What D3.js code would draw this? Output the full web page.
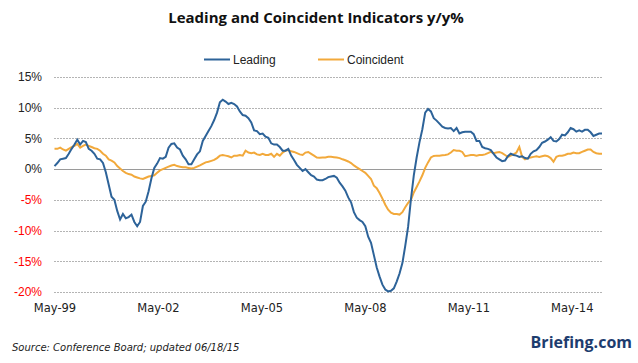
<!DOCTYPE html>
<html>
<head>
<meta charset="utf-8">
<script src="https://cdnjs.cloudflare.com/ajax/libs/d3/7.8.5/d3.min.js"></script>
<style>
  body { margin: 0; background: #fff; }
  svg { display: block; }
</style>
</head>
<body>
<div id="chart"></div>
<script>
// monthly y/y %, May-99 .. May-15
const leading = [
  0.5, 1.0, 1.6, 1.7, 1.8, 2.5, 3.3, 4.0, 4.8, 4.0,
  4.6, 4.4, 3.3, 3.0, 2.5, 1.7, 1.6, 1.0, -0.5, -2.5,
  -4.5, -5.0, -6.8, -8.2, -7.3, -8.0, -7.8, -7.4, -8.6, -9.3,
  -8.6, -6.0, -5.3, -3.6, -1.5, 0.2, 0.9, 1.8, 1.7, 2.0,
  3.5, 4.1, 4.2, 3.5, 3.2, 2.2, 1.6, 0.8, 0.8, 1.6,
  2.4, 2.9, 4.6, 5.4, 6.2, 7.0, 8.0, 9.2, 10.9, 11.3,
  11.0, 10.6, 10.8, 10.6, 10.2, 9.4, 8.8, 8.7, 8.3, 7.6,
  6.3, 6.2, 5.7, 5.8, 5.3, 5.1, 4.2, 4.0, 4.0, 3.6,
  3.0, 3.0, 3.3, 2.2, 1.5, 0.7, 0.2, -0.3, 0.0, -0.5,
  -1.0, -1.2, -1.7, -1.8, -1.8, -1.6, -1.3, -1.2, -1.1, -1.4,
  -2.2, -2.8, -3.5, -4.6, -5.4, -7.0, -7.9, -8.3, -8.6, -9.3,
  -11.0, -12.0, -14.0, -16.0, -17.5, -18.8, -19.6, -19.9, -19.8, -19.4,
  -18.3, -17.0, -15.3, -12.5, -9.4, -4.9, -1.0, 1.9, 4.4, 6.5,
  9.2, 9.8, 9.4, 8.3, 7.9, 7.4, 6.9, 6.7, 6.6, 6.7,
  6.2, 6.7, 5.8, 6.0, 6.1, 6.1, 6.1, 5.7, 4.6, 4.6,
  3.6, 3.4, 3.3, 3.1, 2.5, 1.9, 1.6, 1.3, 1.4, 2.1,
  2.5, 2.3, 2.2, 2.0, 2.1, 1.8, 1.7, 2.5, 2.9, 3.1,
  3.6, 4.3, 4.5, 4.8, 5.2, 4.6, 4.5, 4.9, 5.6, 5.5,
  6.0, 6.7, 6.5, 6.1, 6.3, 6.1, 6.4, 6.4, 6.0, 5.4,
  5.6, 5.8, 5.8
];
const coincident = [
  3.3, 3.3, 3.5, 3.2, 3.0, 3.3, 3.6, 3.8, 4.1, 3.5,
  3.8, 4.0, 3.8, 3.6, 3.4, 3.3, 3.0, 2.5, 2.2, 1.6,
  1.4, 1.1, 0.5, 0.1, -0.3, -0.6, -0.8, -0.9, -1.2, -1.35,
  -1.5, -1.6, -1.4, -1.2, -1.1, -1.0, -0.6, -0.2, 0.0, 0.2,
  0.4, 0.6, 0.7, 0.5, 0.4, 0.3, 0.3, 0.2, 0.1, 0.2,
  0.4, 0.6, 0.85, 1.1, 1.2, 1.35, 1.5, 1.8, 2.2, 2.3,
  2.2, 2.1, 1.9, 2.2, 2.2, 2.3, 2.2, 3.0, 2.7, 2.6,
  2.7, 2.4, 2.3, 2.5, 2.3, 2.3, 2.5, 2.0, 2.5, 2.2,
  2.7, 3.0, 3.1, 2.9, 2.8, 2.6, 2.4, 2.3, 2.7, 2.8,
  2.5, 2.2, 1.9, 1.85, 1.9, 1.9, 2.0, 2.0, 1.95, 1.9,
  1.8, 1.6, 1.45, 1.25, 1.0, 0.6, 0.3, 0.0, -0.3, -0.6,
  -1.1, -1.6, -2.7, -3.1, -3.9, -4.8, -5.8, -6.6, -7.1, -7.3,
  -7.3, -7.4, -7.0, -6.2, -5.5, -5.0, -3.8, -2.9, -2.0, -1.0,
  0.2, 1.1, 1.9, 2.15, 2.2, 2.2, 2.25, 2.3, 2.4, 2.7,
  3.1, 3.0, 3.0, 2.8, 2.1, 2.2, 2.3, 2.3, 2.2, 2.3,
  2.3, 2.4, 2.6, 2.8, 2.6, 2.7, 2.8, 2.6, 2.3, 2.0,
  2.2, 2.4, 2.7, 3.6, 2.0, 1.6, 1.8, 1.9, 2.0, 2.1,
  2.0, 2.1, 2.2, 2.1, 1.8, 1.2, 2.0, 2.2, 2.2, 2.3,
  2.5, 2.5, 2.7, 2.6, 2.6, 2.8, 3.0, 3.2, 3.2, 2.8,
  2.6, 2.5, 2.5
];
const xLabels = ["May-99", "May-02", "May-05", "May-08", "May-11", "May-14"];
const xLabelMonths = [0, 36, 72, 108, 144, 180];
const yTicks = [15, 10, 5, 0, -5, -10, -15, -20];

const W = 638, H = 363;
const plotL = 54, plotR = 602, plotT = 77, plotB = 292;

const svg = d3.select("#chart").append("svg")
  .attr("width", W)
  .attr("height", H);

const x = d3.scaleLinear().domain([0, leading.length - 1]).range([plotL + 0.5, plotR]);
const y = d3.scaleLinear().domain([-20, 15]).range([plotB, plotT]);

// title
svg.append("text")
  .attr("x", 316).attr("y", 23)
  .attr("text-anchor", "middle")
  .style("font-family", "Open Sans")
  .style("font-weight", "bold")
  .style("font-size", "15px")
  .style("fill", "#111")
  .text("Leading and Coincident Indicators y/y%");

// gridlines
svg.append("g")
  .selectAll("line")
  .data(yTicks)
  .enter().append("line")
  .attr("x1", plotL).attr("x2", plotR)
  .attr("y1", d => Math.round(y(d)) + 0.5)
  .attr("y2", d => Math.round(y(d)) + 0.5)
  .style("stroke", d => d === 0 ? "#9a9a9a" : "#b4b4b4")
  .style("stroke-dasharray", d => d === 0 ? null : "2,1");

// y axis labels
const yAxis = d3.axisLeft(y).tickValues(yTicks).tickFormat(d => d + "%").tickSize(0).tickPadding(0);
const gy = svg.append("g")
  .attr("transform", `translate(42,0)`)
  .call(yAxis);
gy.select(".domain").remove();
gy.selectAll("text")
  .style("font-family", "Liberation Sans")
  .style("font-size", "12px")
  .style("fill", d => d < 0 ? "#ff0000" : "#222");

// x axis labels
const gx = svg.append("g")
  .attr("transform", `translate(0,${plotB + 12})`)
  .call(d3.axisBottom(x).tickValues(xLabelMonths).tickFormat((d, i) => xLabels[i]).tickSize(0).tickPadding(0));
gx.select(".domain").remove();
gx.selectAll("text")
  .attr("dx", (d, i) => i * 0.8)
  .style("font-family", "DejaVu Sans")
  .style("font-size", "11.5px")
  .style("fill", "#222");

// lines
const line = d3.line().x((d, i) => x(i)).y(d => y(d));

svg.append("path")
  .datum(coincident)
  .attr("d", line)
  .style("fill", "none")
  .style("stroke", "#f2a93b")
  .style("stroke-width", 2);

svg.append("path")
  .datum(leading)
  .attr("d", line)
  .style("fill", "none")
  .style("stroke", "#2d6399")
  .style("stroke-width", 2);

// legend
const legend = [
  { name: "Leading", color: "#2d6399", x: 204 },
  { name: "Coincident", color: "#f2a93b", x: 318 }
];
const lg = svg.append("g").selectAll("g").data(legend).enter().append("g");
lg.append("line")
  .attr("x1", d => d.x).attr("x2", d => d.x + 26)
  .attr("y1", 59.5).attr("y2", 59.5)
  .style("stroke", d => d.color)
  .style("stroke-width", 2);
lg.append("text")
  .attr("x", d => d.x + 29).attr("y", 64)
  .style("font-family", "Liberation Sans")
  .style("font-size", "12px")
  .style("fill", "#222")
  .text(d => d.name);

// footer
svg.append("text")
  .attr("x", 12).attr("y", 351)
  .style("font-family", "DejaVu Sans")
  .style("font-style", "italic")
  .style("font-size", "10px")
  .style("fill", "#222")
  .text("Source: Conference Board; updated 06/18/15");

svg.append("text")
  .attr("x", 632).attr("y", 348)
  .attr("text-anchor", "end")
  .style("font-family", "Open Sans")
  .style("font-weight", "bold")
  .style("font-size", "16px")
  .style("fill", "#1d3c6e")
  .text("Briefing.com");
</script>
</body>
</html>
